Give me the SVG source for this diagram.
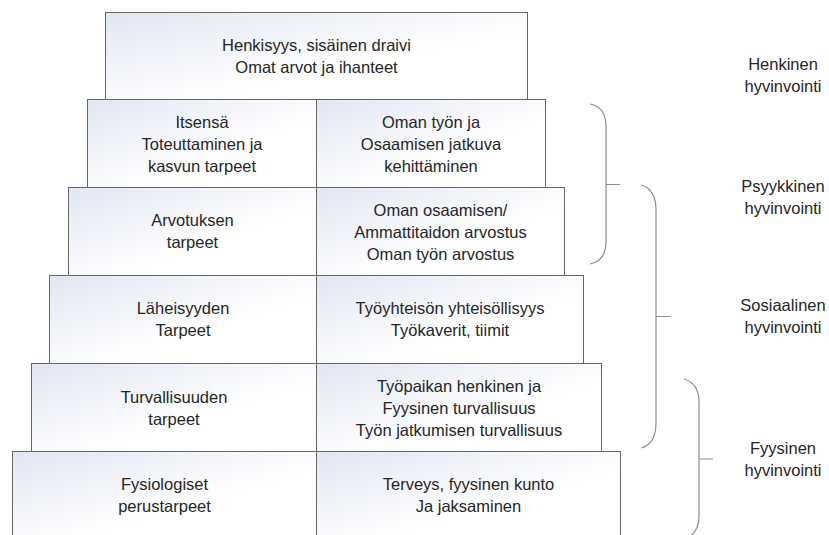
<svg xmlns="http://www.w3.org/2000/svg" width="829" height="535" viewBox="0 0 829 535">
<defs>
<linearGradient id="g" x1="0" y1="0" x2="1" y2="1">
<stop offset="0" stop-color="#e1e6f2"/>
<stop offset="0.6" stop-color="#ffffff"/>
</linearGradient>
<style>
.box{fill:url(#g);stroke:#666;stroke-width:1}
.t{font-family:"Liberation Sans",Arial,sans-serif;font-size:16.5px;fill:#262626;text-anchor:middle}
.br{fill:none;stroke:#8c8c8c;stroke-width:1.2}
</style>
</defs>
<rect width="829" height="535" fill="#fff"/>
<g id="top">
<rect class="box" x="105.5" y="12.5" width="422" height="87"/>
<text class="t" x="316.5" y="50.7">Henkisyys, sisäinen draivi</text>
<text class="t" x="316.5" y="73.2">Omat arvot ja ihanteet</text>
</g>
<g id="row2">
<rect class="box" x="87.5" y="99.5" width="229" height="88"/>
<rect class="box" x="316.5" y="99.5" width="229" height="88"/>
<text class="t" x="202" y="127.7">Itsensä</text>
<text class="t" x="202" y="150">Toteuttaminen ja</text>
<text class="t" x="202" y="172.3">kasvun tarpeet</text>
<text class="t" x="431" y="127.7">Oman työn ja</text>
<text class="t" x="431" y="150">Osaamisen jatkuva</text>
<text class="t" x="431" y="172.3">kehittäminen</text>
</g>
<g id="row3">
<rect class="box" x="68.5" y="187.5" width="248" height="88"/>
<rect class="box" x="316.5" y="187.5" width="248" height="88"/>
<text class="t" x="192.5" y="226">Arvotuksen</text>
<text class="t" x="192.5" y="248.3">tarpeet</text>
<text class="t" x="440.5" y="215.5">Oman osaamisen/</text>
<text class="t" x="440.5" y="237.6">Ammattitaidon arvostus</text>
<text class="t" x="440.5" y="259.9">Oman työn arvostus</text>
</g>
<g id="row4">
<rect class="box" x="49.5" y="275.5" width="267" height="88"/>
<rect class="box" x="316.5" y="275.5" width="267" height="88"/>
<text class="t" x="183" y="313.5">Läheisyyden</text>
<text class="t" x="183" y="335.9">Tarpeet</text>
<text class="t" x="450" y="313.5">Työyhteisön yhteisöllisyys</text>
<text class="t" x="450" y="335.9">Työkaverit, tiimit</text>
</g>
<g id="row5">
<rect class="box" x="31.5" y="363.5" width="285" height="88"/>
<rect class="box" x="316.5" y="363.5" width="285" height="88"/>
<text class="t" x="174" y="402.5">Turvallisuuden</text>
<text class="t" x="174" y="424.8">tarpeet</text>
<text class="t" x="459" y="391.7">Työpaikan henkinen ja</text>
<text class="t" x="459" y="414">Fyysinen turvallisuus</text>
<text class="t" x="459" y="436.3">Työn jatkumisen turvallisuus</text>
</g>
<g id="row6">
<rect class="box" x="12.5" y="451.5" width="304" height="88"/>
<rect class="box" x="316.5" y="451.5" width="304" height="88"/>
<text class="t" x="164.5" y="490">Fysiologiset</text>
<text class="t" x="164.5" y="511.8">perustarpeet</text>
<text class="t" x="468.5" y="490">Terveys, fyysinen kunto</text>
<text class="t" x="468.5" y="511.8">Ja jaksaminen</text>
</g>
<g id="connectors">
<path class="br" d="M590,104 C601,106 606,114 606,127 L606,241 C606,254 601,262 590,264 M606,184.5 H620"/>
<path class="br" d="M641.5,185 C651,188 656,196 656,210 L656,423 C656,437 651,445 641.5,448 M656,316.5 H670.5"/>
<path class="br" d="M684,379 C694,382 699,389 699,402 L699,516 C699,529 694,536 684,539 M699,459 H713"/>
</g>
<g id="labels">
<text class="t" x="783" y="70">Henkinen</text>
<text class="t" x="783" y="92.3">hyvinvointi</text>
<text class="t" x="783" y="191.7">Psyykkinen</text>
<text class="t" x="783" y="214">hyvinvointi</text>
<text class="t" x="783" y="311">Sosiaalinen</text>
<text class="t" x="783" y="333.3">hyvinvointi</text>
<text class="t" x="783" y="454">Fyysinen</text>
<text class="t" x="783" y="476.3">hyvinvointi</text>
</g>
</svg>
